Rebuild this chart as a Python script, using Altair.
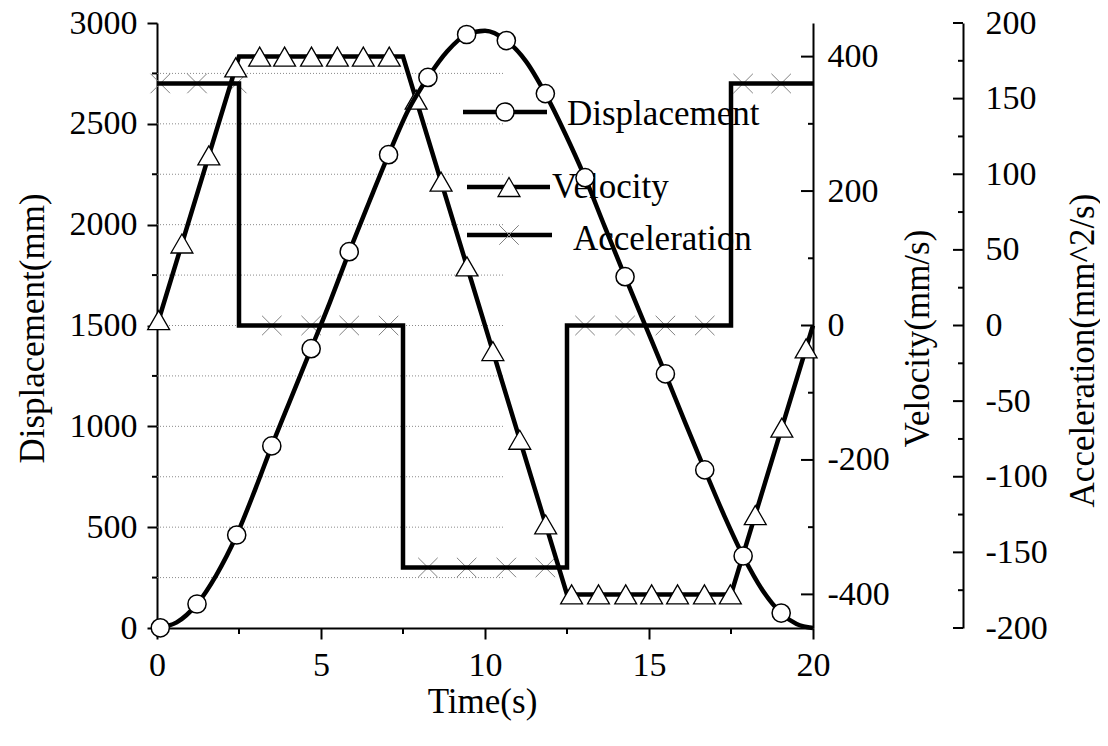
import altair as alt
import pandas as pd

# ---------------- data ----------------
disp_t = [0, 0.6, 1.22, 1.8, 2.43, 3.0, 3.5, 4.1, 4.7, 5.27, 5.86, 6.45, 7.06, 7.65,
          8.26, 8.85, 9.44, 10.0, 10.65, 11.25, 11.84, 12.45, 13.05, 13.65, 14.27,
          14.9, 15.5, 16.1, 16.7, 17.3, 17.87, 18.45, 19.03, 19.5, 20.0]
disp_v = [0, 28, 119, 260, 461, 690, 903, 1145, 1385, 1615, 1866, 2105, 2347, 2565,
          2730, 2860, 2943, 2962, 2913, 2810, 2650, 2450, 2233, 1990, 1742,
          1495, 1260, 1020, 784, 555, 357, 190, 74, 20, 0]

disp_mark_t = [0.1, 1.22, 2.43, 3.5, 4.7, 5.86, 7.06, 8.26, 9.44, 10.65, 11.84,
               13.05, 14.27, 15.5, 16.7, 17.87, 19.03]
disp_mark_v = [1, 119, 461, 903, 1385, 1866, 2347, 2730, 2943, 2913, 2650,
               2233, 1742, 1260, 784, 357, 74]

vel_t = [0, 2.5, 7.5, 12.5, 17.5, 20]
vel_v = [0, 400, 400, -400, -400, 0]
vel_mark_t = [0.05, 0.76, 1.58, 2.40, 3.13, 3.89, 4.71, 5.50, 6.29, 7.08, 7.90, 8.66,
              9.45, 10.24, 11.06, 11.85, 12.64, 13.46, 14.29, 15.08, 15.87, 16.69,
              17.48, 18.24, 19.05, 19.79]
vel_mark_v = [8, 122, 253, 384, 400, 400, 400, 400, 400, 400, 336, 214,
              88, -38, -170, -296, -400, -400, -400, -400, -400, -400,
              -400, -282, -152, -34]

acc_t = [0, 2.5, 7.5, 12.5, 17.5, 20]
acc_v = [160, 0, -160, 0, 160, 160]
acc_mark_t = disp_mark_t
acc_mark_v = [160, 160, 160, 0, 0, 0, 0, -160, -160, -160, -160, 0, 0, 0, 0, 160, 160]

x_ticks = [0, 5, 10, 15, 20]
x_minor = [2.5, 7.5, 12.5, 17.5]
disp_ticks = [0, 500, 1000, 1500, 2000, 2500, 3000]
disp_minor = [250, 750, 1250, 1750, 2250, 2750]
grid_vals = [250, 500, 750, 1000, 1250, 1500, 1750, 2000, 2250, 2500, 2750]
vel_ticks = [-400, -200, 0, 200, 400]
vel_minor = [-300, -100, 100, 300]
acc_ticks = [-200, -150, -100, -50, 0, 50, 100, 150, 200]
acc_minor = [-175, -125, -75, -25, 25, 75, 125, 175]
legend_labels = ["Displacement", "Velocity", "Acceleration"]

# ---------------- styling ----------------
W, H = 656, 605
FONT = "Liberation Serif"
LAB = 34
TIT = 35
LEXPR = "toString(datum.value)"

xenc = alt.X("t:Q", scale=alt.Scale(domain=[0, 20], nice=False, zero=False),
             axis=alt.Axis(orient="bottom", values=x_ticks, tickSize=11, tickWidth=2,
                           tickColor="black", domainColor="black", domainWidth=2,
                           labelFont=FONT, labelFontSize=LAB, labelColor="black",
                           labelBaseline="alphabetic", labelPadding=36,
                           labelExpr=LEXPR,
                           labelFlush=False, labelOverlap=False, grid=False,
                           title="Time(s)", titleFont=FONT, titleFontSize=TIT,
                           titleFontWeight="normal", titleColor="black",
                           titleX=325, titleY=84, titleAlign="center",
                           titleBaseline="alphabetic"))

def y_enc(field, domain, axis):
    return alt.Y(field, scale=alt.Scale(domain=domain, nice=False, zero=False), axis=axis)

disp_axis = alt.Axis(orient="left", values=disp_ticks, tickSize=10, tickWidth=2,
                     tickColor="black", domainColor="black", domainWidth=2,
                     labelFont=FONT, labelFontSize=LAB, labelColor="black",
                     labelPadding=10, labelOverlap=False, grid=False, labelExpr=LEXPR,
                     title="Displacement(mm)", titleFont=FONT, titleFontSize=TIT,
                     titleFontWeight="normal", titleColor="black", titleAngle=270,
                     titleX=-125, titleY=305, titleAlign="center", titleBaseline="middle")
vel_axis = alt.Axis(orient="right", values=vel_ticks, ticks=False,
                    domainColor="black", domainWidth=2,
                    labelFont=FONT, labelFontSize=LAB, labelColor="black",
                    labelPadding=14, labelOverlap=False, grid=False, labelExpr=LEXPR,
                    title="Velocity(mm/s)", titleFont=FONT, titleFontSize=TIT,
                    titleFontWeight="normal", titleColor="black", titleAngle=270,
                    titleX=104, titleY=315, titleAlign="center", titleBaseline="middle")
acc_axis = alt.Axis(orient="right", offset=150, values=acc_ticks, ticks=False,
                    domainColor="black", domainWidth=2,
                    labelFont=FONT, labelFontSize=LAB, labelColor="black",
                    labelPadding=22, labelOverlap=False, grid=False, labelExpr=LEXPR,
                    title="Acceleration(mm^2/s)", titleFont=FONT, titleFontSize=TIT,
                    titleFontWeight="normal", titleColor="black", titleAngle=270,
                    titleX=119, titleY=327, titleAlign="center", titleBaseline="middle")

LINE_W = 4.5
CROSS = "M-1,-1L1,1M-1,1L1,-1"

# ---------------- grid + legend layer (bottom-most) ----------------
yg = y_enc("g:Q", [0, 3000], None)
grid = alt.Chart(pd.DataFrame({"g": grid_vals})).mark_rule(
    color="#8a8a8a", strokeWidth=1, strokeDash=[1, 2]
).encode(x=alt.value(0), x2=alt.value(346), y=yg)

xminor = alt.Chart(pd.DataFrame({"t": x_minor})).mark_rule(
    color="black", strokeWidth=2
).encode(x=xenc, y=alt.value(H), y2=alt.value(H + 6))

leg_pos = [  # (line x0, line x1, line y, marker x, text x, text baseline y)
    (306, 390, 89, 348, 410, 102),
    (310, 393, 164, 352, 395, 175),
    (310, 395, 212, 352, 416, 227),
]
leg_layers = []
for i, (lx0, lx1, ly, mx, tx, ty) in enumerate(leg_pos):
    df = pd.DataFrame({"label": [legend_labels[i]]})
    base = alt.Chart(df)
    leg_layers.append(base.mark_rule(color="black", strokeWidth=LINE_W).encode(
        x=alt.value(lx0), x2=alt.value(lx1), y=alt.value(ly)))
    if i == 0:
        mk = base.mark_point(shape="circle", filled=True, color="white", stroke="black",
                             strokeWidth=1.5, size=330, opacity=1)
    elif i == 1:
        mk = base.mark_point(shape="triangle-up", filled=True, color="white",
                             stroke="black", strokeWidth=1.3, size=480, opacity=1)
    else:
        mk = base.mark_point(shape=CROSS, filled=False, stroke="#808080",
                             strokeWidth=1, size=380, opacity=1)
    leg_layers.append(mk.encode(x=alt.value(mx), y=alt.value(ly)))
    leg_layers.append(base.mark_text(font=FONT, fontSize=TIT, align="left",
                                     baseline="alphabetic", color="black").encode(
        x=alt.value(tx), y=alt.value(ty), text="label:N"))

grid_layer = alt.layer(grid, xminor, *leg_layers)

# ---------------- acceleration layer ----------------
ya = y_enc("a:Q", [-200, 200], acc_axis)
acc_line = alt.Chart(pd.DataFrame({"t": acc_t, "a": acc_v})).mark_line(
    color="black", strokeWidth=LINE_W, interpolate="step-after"
).encode(x=xenc, y=ya)
acc_pts = alt.Chart(pd.DataFrame({"t": acc_mark_t, "a": acc_mark_v})).mark_point(
    shape=CROSS, filled=False, stroke="#808080", strokeWidth=1, size=380, opacity=1
).encode(x=xenc, y=ya)
acc_maj = alt.Chart(pd.DataFrame({"a": acc_ticks})).mark_rule(
    color="black", strokeWidth=2).encode(x=alt.value(W + 140), x2=alt.value(W + 150), y=ya)
acc_min = alt.Chart(pd.DataFrame({"a": acc_minor})).mark_rule(
    color="black", strokeWidth=2).encode(x=alt.value(W + 145), x2=alt.value(W + 150), y=ya)
acc_layer = alt.layer(acc_pts, acc_line, acc_maj, acc_min)

# ---------------- velocity layer ----------------
yv = y_enc("v:Q", [-450, 450], vel_axis)
vel_line = alt.Chart(pd.DataFrame({"t": vel_t, "v": vel_v})).mark_line(
    color="black", strokeWidth=LINE_W
).encode(x=xenc, y=yv)
vel_pts = alt.Chart(pd.DataFrame({"t": vel_mark_t, "v": vel_mark_v})).mark_point(
    shape="triangle-up", filled=True, color="white", stroke="black",
    strokeWidth=1.3, size=480, opacity=1
).encode(x=xenc, y=yv)
vel_maj = alt.Chart(pd.DataFrame({"v": vel_ticks})).mark_rule(
    color="black", strokeWidth=2).encode(x=alt.value(W - 12), x2=alt.value(W), y=yv)
vel_min = alt.Chart(pd.DataFrame({"v": vel_minor})).mark_rule(
    color="black", strokeWidth=2).encode(x=alt.value(W - 5), x2=alt.value(W), y=yv)
vel_layer = alt.layer(vel_line, vel_pts, vel_maj, vel_min)

# ---------------- displacement layer ----------------
yd = y_enc("d:Q", [0, 3000], disp_axis)
disp_line = alt.Chart(pd.DataFrame({"t": disp_t, "d": disp_v})).mark_line(
    color="black", strokeWidth=LINE_W, interpolate="monotone"
).encode(x=xenc, y=yd)
disp_pts = alt.Chart(pd.DataFrame({"t": disp_mark_t, "d": disp_mark_v})).mark_point(
    shape="circle", filled=True, color="white", stroke="black",
    strokeWidth=1.5, size=330, opacity=1
).encode(x=xenc, y=yd)
disp_min = alt.Chart(pd.DataFrame({"d": disp_minor})).mark_rule(
    color="black", strokeWidth=2).encode(x=alt.value(-5), x2=alt.value(0), y=yd)
disp_layer = alt.layer(disp_line, disp_pts, disp_min)

chart = alt.layer(grid_layer, acc_layer, vel_layer, disp_layer).resolve_scale(
    y="independent"
).properties(
    width=W, height=H,
    autosize=alt.AutoSizeParams(type="none"),
    padding={"left": 149, "top": 15, "right": 287, "bottom": 110},
    background="white",
).configure_view(stroke=None)

chart.save("out.html", embed_options={"renderer": "svg", "actions": False})
